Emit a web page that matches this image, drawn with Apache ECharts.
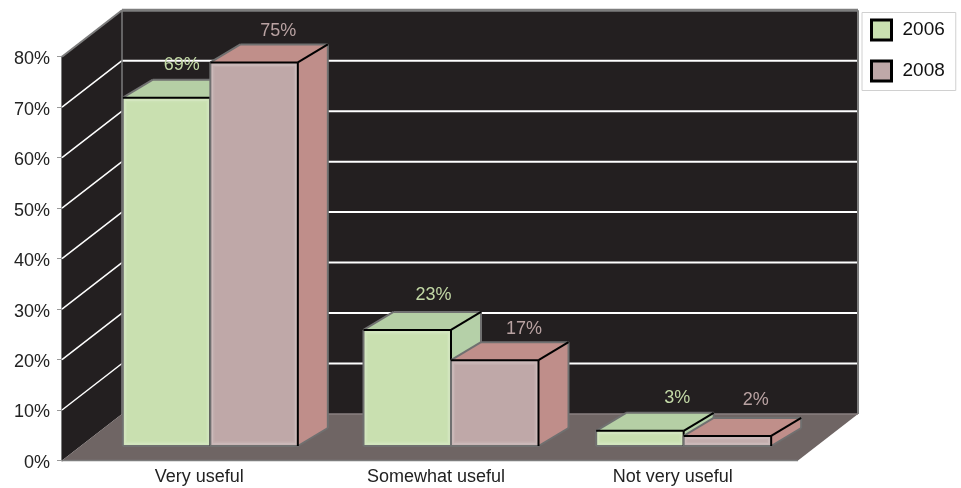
<!DOCTYPE html>
<html>
<head>
<meta charset="utf-8">
<style>html,body{margin:0;padding:0;background:#fff}#c{width:961px;height:488px}</style>
<script src="https://cdn.jsdelivr.net/npm/echarts@6/dist/echarts.min.js"></script>
</head>
<body>
<div id="c"></div>
<script>
const categories = ['Very useful', 'Somewhat useful', 'Not very useful'];
const seriesNames = ['2006', '2008'];
const values2006 = [69, 23, 3];
// The tallest 2008 bar is drawn at about 76 on the axis while its printed label says 75%.
const values2008 = [76, 17, 2];
const labels2006 = ['69%', '23%', '3%'];
const labels2008 = ['75%', '17%', '2%'];
const gridTicks = [10, 20, 30, 40, 50, 60, 70];

const FONT = '"Liberation Sans",Arial,sans-serif';
const WALL = '#231f20', FLOOR = '#6f6564', EDGE = '#7d7d7d';
const BACK = [60, -46.5], DEPTH = [30, -18];
const LIFT = 14.5, BAR_W = 87.5, CENTER_SHIFT = 11;
const catNudge = [0, 4, 0];
const palette = {
  '2006': {front: '#c9e0b0', top: '#b5cfa5', side: '#b5d0a8', text: '#c3d9a6'},
  '2008': {front: '#bfa8a8', top: '#c08f8a', side: '#bf8e8a', text: '#b9a2a2'}
};
const labelNudge = {'2006': [-11, 0, 11], '2008': [-2, 3, 2]};
const labelRise = {'2006': [-15, -17, -15], '2008': [-13, -13, -18]};

function poly(points, fill, stroke, lw) {
  return {type: 'polygon', shape: {points}, style: {fill: fill || 'none', stroke: stroke || 'none', lineWidth: lw || 0, lineJoin: 'miter'}};
}
function seg(a, b, color, lw) {
  return {type: 'line', shape: {x1: a[0], y1: a[1], x2: b[0], y2: b[1]}, style: {stroke: color, lineWidth: lw}};
}
function glow(x0, x1, yt, yb) {
  const h = yb - yt;
  const t = Math.min(h / 2 - 1, 2), u = Math.min(h / 2 - 1, 3.5);
  return [
    poly([[x0 + 1.5, yb - t], [x1 - 1.5, yb - t], [x1 - 1.5, yt + t], [x0 + 1.5, yt + t]], null, 'rgba(255,255,255,0.16)', 2.5),
    poly([[x0 + 3, yb - u], [x1 - 3, yb - u], [x1 - 3, yt + u], [x0 + 3, yt + u]], null, 'rgba(255,255,255,0.07)', 2.5)
  ];
}

function renderWalls(params, api) {
  const g = params.coordSys;
  const l = g.x - 19, r = g.x + g.width + 7;
  const y0 = api.coord([0, 0])[1], yTop = api.coord([0, 80])[1];
  const back = (p) => [p[0] + BACK[0], p[1] + BACK[1]];
  const fl = [l, y0], fr = [r, y0], tl = [l, yTop];
  const bl = back(fl), br = back(fr), btl = back(tl), btr = back([r, yTop]);
  const kids = [
    poly([bl, br, btr, btl], WALL),
    poly([fl, bl, btl, tl], WALL)
  ];
  gridTicks.forEach((v) => {
    const y = api.coord([0, v])[1];
    const a = [l, y], b = back(a), c = back([r, y]);
    kids.push(seg(a, b, '#ffffff', 1.5), seg(b, c, '#ffffff', 2));
  });
  kids.push(
    poly([fl, fr, br, bl], FLOOR),
    seg(fl, fr, EDGE, 1.5),
    seg(tl, btl, EDGE, 2), seg(btl, btr, EDGE, 3), seg(btr, br, EDGE, 2), seg(btl, bl, EDGE, 1.5),
    seg(bl, br, '#8a8080', 1.5)
  );
  return {type: 'group', children: kids};
}

function makeBars(name, labels) {
  const idx = seriesNames.indexOf(name);
  const pal = palette[name];
  return function (params, api) {
    const cat = api.value(0), val = api.value(1);
    const top = api.coord([cat, val]), base = api.coord([cat, 0]);
    const cx = base[0] + CENTER_SHIFT + catNudge[cat];
    const x0 = cx + (idx === 0 ? -BAR_W : 0), x1 = x0 + BAR_W;
    const yb = base[1] - LIFT, yt = top[1] - LIFT;
    const d = (p) => [p[0] + DEPTH[0], p[1] + DEPTH[1]];
    const a = [x0, yb], b = [x1, yb], c = [x1, yt], e = [x0, yt];
    const kids = [
      poly([b, c, d(c), d(b)], pal.side),
      poly([e, c, d(c), d(e)], pal.top),
      poly([a, b, c, e], pal.front)
    ].concat(glow(x0, x1, yt, yb), [
      seg(a, b, '#707070', 2), seg(a, e, '#707070', 2),
      seg(e, d(e), '#707070', 2), seg(d(e), d(c), '#707070', 2),
      seg(d(c), d(b), '#707070', 2), seg(d(b), b, '#707070', 2),
      seg(e, c, '#000000', 2), seg(c, b, '#000000', 2), seg(c, d(c), '#000000', 2),
      {type: 'text', style: {
        x: x0 + 70 + labelNudge[name][cat], y: d(e)[1] + labelRise[name][cat],
        text: labels[cat], fill: pal.text, font: '18px ' + FONT, align: 'center', verticalAlign: 'middle'
      }}
    ]);
    return {type: 'group', children: kids};
  };
}

const chart = echarts.init(document.getElementById('c'), null, {renderer: 'canvas'});
chart.setOption({
  animation: false,
  backgroundColor: '#ffffff',
  grid: {left: 81, right: 170, top: 56.7, bottom: 27.5},
  legend: {
    orient: 'vertical', left: 862, top: 12.5,
    data: [
      {name: '2006', itemStyle: {color: palette['2006'].front, borderColor: '#000', borderWidth: 3}},
      {name: '2008', itemStyle: {color: palette['2008'].front, borderColor: '#000', borderWidth: 3}}
    ],
    itemWidth: 20, itemHeight: 20, itemGap: 18, icon: 'rect',
    padding: [6, 11, 8, 8], borderColor: '#d0d0d0', borderWidth: 1,
    textStyle: {fontFamily: FONT, fontSize: 19, color: '#111', padding: [0, 0, 0, 6]}
  },
  xAxis: {
    type: 'category', data: categories,
    axisLine: {show: false}, axisTick: {show: false},
    axisLabel: {fontFamily: FONT, fontSize: 18, color: '#222', margin: 8}
  },
  yAxis: {
    type: 'value', min: 0, max: 80, interval: 10, offset: 19,
    splitLine: {show: false},
    axisLine: {show: true, lineStyle: {color: EDGE, width: 2}},
    axisTick: {show: true, length: 5, lineStyle: {color: '#999', width: 1}},
    axisLabel: {
      formatter: '{t|{value}%}', margin: 12,
      rich: {t: {fontFamily: FONT, fontSize: 18, color: '#222', padding: [5, 0, 0, 0]}}
    }
  },
  series: [
    {type: 'custom', name: 'walls', z: 1, silent: true, clip: false, renderItem: renderWalls, data: [[0, 0]], encode: {x: 0, y: 1}},
    {type: 'custom', name: '2006', z: 2, clip: false, renderItem: makeBars('2006', labels2006),
      itemStyle: {color: palette['2006'].front},
      data: values2006.map((v, i) => [i, v]), encode: {x: 0, y: 1}},
    {type: 'custom', name: '2008', z: 3, clip: false, renderItem: makeBars('2008', labels2008),
      itemStyle: {color: palette['2008'].front},
      data: values2008.map((v, i) => [i, v]), encode: {x: 0, y: 1}}
  ]
});
</script>
</body>
</html>
